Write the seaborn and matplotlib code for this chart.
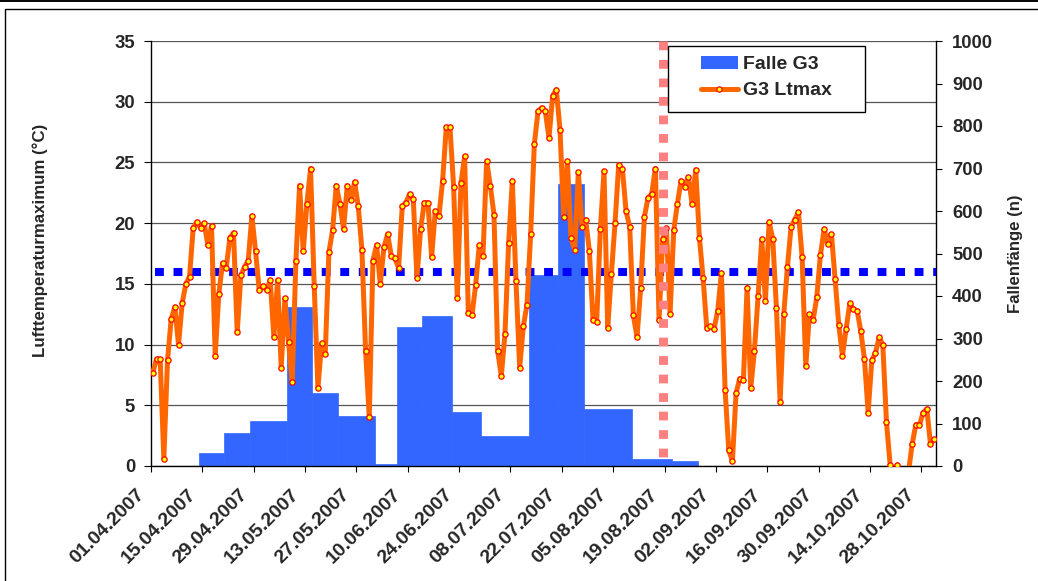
import numpy as np
import pandas as pd
import matplotlib
matplotlib.use("Agg")
import matplotlib.pyplot as plt
from matplotlib.patches import Patch, Rectangle
from matplotlib.lines import Line2D
from matplotlib.transforms import ScaledTranslation
import seaborn as sns

# Daily maximum air temperature at station G3, 01.04.2007 - 31.10.2007 (°C)
ltmax_g3 = [
    7.7, 8.8, 8.8, 0.6, 8.7, 12.1, 13.1, 10.0, 13.4, 15.0,
    15.6, 19.6, 20.1, 19.6, 20.0, 18.2, 19.8, 9.1, 14.2, 16.7,
    16.3, 18.8, 19.2, 11.0, 15.7, 16.4, 16.9, 20.6, 17.7, 14.5,
    14.8, 14.5, 15.3, 10.6, 15.3, 8.1, 13.8, 10.2, 6.9, 16.9,
    23.1, 17.7, 21.6, 24.5, 14.8, 6.4, 10.1, 9.2, 17.6, 19.4,
    23.1, 21.6, 19.5, 23.1, 21.9, 23.4, 21.4, 17.8, 9.5, 4.0,
    16.9, 18.2, 15.0, 18.0, 19.1, 17.3, 17.1, 16.3, 21.4, 21.7,
    22.4, 22.0, 15.5, 19.5, 21.7, 21.7, 17.2, 21.0, 20.6, 23.5,
    27.9, 27.9, 23.0, 13.8, 23.3, 25.5, 12.6, 12.4, 14.9, 18.2,
    17.3, 25.1, 23.1, 20.7, 9.5, 7.4, 10.9, 18.4, 23.5, 15.2,
    8.1, 11.5, 13.3, 19.1, 26.5, 29.2, 29.5, 29.2, 27.0, 30.5,
    31.0, 27.7, 20.5, 25.1, 18.8, 17.8, 24.2, 19.7, 20.3, 17.7,
    12.0, 11.9, 19.5, 24.3, 11.4, 15.8, 20.0, 24.8, 24.5, 21.0,
    19.7, 12.4, 10.6, 14.7, 20.5, 22.1, 22.4, 24.5, 12.0, 18.7,
    19.6, 12.5, 19.4, 21.6, 23.5, 23.0, 23.8, 21.6, 24.4, 18.8,
    15.5, 11.4, 11.5, 11.3, 12.8, 15.9, 6.3, 1.3, 0.4, 6.0,
    7.2, 7.1, 14.7, 6.4, 9.5, 14.0, 18.7, 13.6, 20.1, 18.7,
    13.0, 5.3, 12.5, 16.4, 19.7, 20.3, 20.9, 17.2, 8.2, 12.5,
    12.0, 13.9, 17.4, 19.5, 18.3, 19.1, 15.4, 11.6, 9.1, 11.3,
    13.4, 12.9, 12.8, 11.1, 8.8, 4.4, 8.7, 9.3, 10.6, 10.0,
    3.6, 0.1, -0.3, 0.1, -1.5, -1.2, -0.5, 1.8, 3.4, 3.4,
    4.4, 4.7, 1.8, 2.2,
]
first_day = "2007-04-01"

# Catches of trap G3 per emptying interval (first and last day of each interval)
period_first = ["14.04.2007", "21.04.2007", "28.04.2007", "08.05.2007",
                "15.05.2007", "22.05.2007", "01.06.2007", "07.06.2007",
                "14.06.2007", "22.06.2007", "30.06.2007", "13.07.2007",
                "21.07.2007", "28.07.2007", "10.08.2007", "21.08.2007"]
period_last = ["20.04.2007", "27.04.2007", "07.05.2007", "14.05.2007",
               "21.05.2007", "31.05.2007", "06.06.2007", "13.06.2007",
               "21.06.2007", "29.06.2007", "12.07.2007", "20.07.2007",
               "27.07.2007", "09.08.2007", "20.08.2007", "27.08.2007"]
catches_g3 = [30, 78, 106, 374, 172, 118, 4, 327, 353, 127, 71, 449, 663,
              134, 16, 12]

threshold_temp = 16
event_date = "18.08.2007"

# ---------------------------------------------------------------- styling
sns.set_theme(style="white")
plt.rcParams["font.family"] = ["Liberation Sans", "DejaVu Sans"]
plt.rcParams["font.weight"] = "bold"
plt.rcParams["axes.labelweight"] = "bold"

W, H = 1038, 581
fig = plt.figure(figsize=(W / 100, H / 100), dpi=100)
fig.patch.set_facecolor("white")
ax = fig.add_axes([151 / W, 1 - 466 / H, 785 / W, 425 / H])
ax2 = ax.twinx()   # trap catches (right axis)
ax3 = ax.twinx()   # temperature series drawn on top of the bars

dates = pd.date_range(first_day, periods=len(ltmax_g3))
day_pos = np.arange(len(dates)) + 0.5
temp_df = pd.DataFrame({"pos": day_pos, "ltmax": ltmax_g3})

fmt = "%d.%m.%Y"
p_first = (pd.to_datetime(period_first, format=fmt) - dates[0]).days.to_numpy()
p_last = (pd.to_datetime(period_last, format=fmt) - dates[0]).days.to_numpy()
edges = [float(e) for e in np.append(p_first, p_last[-1] + 1)]
trap_df = pd.DataFrame({"pos": p_first + 0.5, "catches": catches_g3})

# ---------------------------------------------------------------- bars
sns.histplot(data=trap_df, x="pos", weights="catches", bins=edges, ax=ax2,
             color="#3366FF", alpha=1, edgecolor="#3366FF", linewidth=0.5)

# ---------------------------------------------------------------- lines
ax3.plot([1.2, len(dates)], [threshold_temp, threshold_temp],
         color="#0000FF", lw=5.8, linestyle=(0, (1.1, 1.2)),
         solid_capstyle="butt", dash_capstyle="butt", zorder=2)
sns.lineplot(data=temp_df, x="pos", y="ltmax", ax=ax3, color="#FF6600",
             linewidth=3.6, marker="o", markersize=3.8,
             markerfacecolor="#FFFF00", markeredgecolor="#FF0000",
             markeredgewidth=0.9, zorder=3)
ev = (pd.to_datetime(event_date, format=fmt) - dates[0]).days + 0.5
ax3.plot([ev, ev], [35, 0], color="#FF8080", lw=6.5,
         linestyle=(0, (0.97, 1.08)), dash_capstyle="butt", zorder=4)

# ---------------------------------------------------------------- axes
ax.set_xlim(0, len(dates))
for a in (ax, ax3):
    a.set_ylim(0, 35)
ax2.set_ylim(0, 1000)

ax.set_yticks(np.arange(0, 36, 5))
ax2.set_yticks(np.arange(0, 1001, 100))
tick_idx = np.arange(0, len(dates), 14)
ax.set_xticks(tick_idx)
ax.set_xticklabels(dates[tick_idx].strftime(fmt))

ax.yaxis.grid(True, color="#555555", lw=0.9)
ax.xaxis.grid(False)
ax.set_axisbelow(True)

for a in (ax, ax2, ax3):
    for s in a.spines.values():
        s.set_visible(False)
ax.spines["left"].set_visible(True)
ax2.spines["right"].set_visible(True)
ax3.spines["bottom"].set_visible(True)
for s in (ax.spines["left"], ax2.spines["right"], ax3.spines["bottom"]):
    s.set_color("black")
    s.set_linewidth(1.0)

ax.tick_params(axis="y", which="both", left=True, direction="out",
               length=5, width=0.8, color="black", pad=6.5, labelsize=13.3)
ax.tick_params(axis="x", which="both", bottom=True, direction="out",
               length=4.3, width=0.8, color="black", pad=14.4, labelsize=14)
ax2.tick_params(axis="y", right=True, direction="out", length=4.5,
                width=0.8, color="black", pad=7.2, labelsize=13.3)
ax3.tick_params(left=False, right=False, labelleft=False, labelright=False)
ax3.set_ylabel("")
ax3.set_xlabel("")
ax2.set_ylabel("")
ax2.set_xlabel("")
ax.set_ylabel("")

shift = ScaledTranslation(-9 / 100, 0, fig.dpi_scale_trans)
for lab in ax.get_xticklabels():
    lab.set_rotation(45)
    lab.set_ha("right")
    lab.set_va("center")
    lab.set_rotation_mode("anchor")
    lab.set_transform(lab.get_transform() + shift)

fig.text(40 / W, 1 - 240 / H, "Lufttemperaturmaximum (°C)", rotation=90,
         ha="center", va="center", fontsize=12.2, fontweight="bold")
fig.text(1015.5 / W, 1 - 254 / H, "Fallenfänge (n)", rotation=90,
         ha="center", va="center", fontsize=12.1, fontweight="bold")

# ---------------------------------------------------------------- legend
box = Rectangle((668 / W, 1 - 111.7 / H), 197 / W, 66 / H,
                transform=fig.transFigure, facecolor="white",
                edgecolor="black", lw=1.0, zorder=10)
fig.add_artist(box)
handles = [
    Patch(facecolor="#3366FF", edgecolor="none", label="Falle G3"),
    Line2D([0], [0], color="#FF6600", lw=3.6, marker="o", markersize=3.8,
           markerfacecolor="#FFFF00", markeredgecolor="#FF0000",
           markeredgewidth=0.9, label="G3 Ltmax"),
]
leg = fig.legend(handles=handles, loc="center left",
                 bbox_to_anchor=(701 / W, 1 - 77.5 / H),
                 bbox_transform=fig.transFigure, frameon=False,
                 borderpad=0, borderaxespad=0, handlelength=1.9,
                 handletextpad=0.28, labelspacing=0.45,
                 prop={"weight": "bold", "size": 14})
leg.set_zorder(11)

# ---------------------------------------------------------------- frame
fig.add_artist(Rectangle((5 / W, -0.1), 1.2, 1.1 - 9.3 / H,
                         transform=fig.transFigure, fill=False,
                         edgecolor="black", lw=1.0))
fig.add_artist(Line2D([0, 1], [1 - 0.8 / H, 1 - 0.8 / H],
                      transform=fig.transFigure, color="black", lw=1.4))

fig.savefig("out.png", dpi=100)
